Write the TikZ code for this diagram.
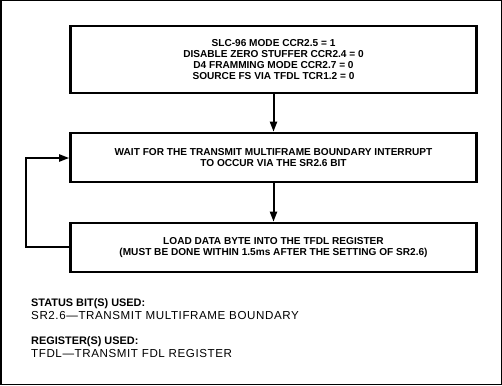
\documentclass[tikz,border=0pt]{standalone}
\usepackage{fontspec}
\setmainfont{Liberation Sans}
\usetikzlibrary{arrows.meta}
\tikzset{
  stepbox/.style={draw, line width=2.6pt, minimum width=406pt, align=center, font=\bfseries\fontsize{10.1}{11}\selectfont, inner sep=0pt},
  flow/.style={line width=2pt, -{Triangle[width=7pt,length=10pt]}},
  lbl/.style={anchor=base west, inner sep=0pt, font=\fontsize{10.9}{12}\selectfont},
  wide/.style={font=\fontsize{11.6}{12}\selectfont\addfontfeature{LetterSpace=5}}
}
\begin{document}
\begin{tikzpicture}[x=1pt,y=-1pt]
\useasboundingbox (0,0) rectangle (502,385);
\draw[line width=1.5pt] (0.75,0.75) rectangle (501.25,384.25);
\node[stepbox, minimum height=67pt] (b1) at (273.5,59.5) {SLC-96 MODE CCR2.5 = 1\\DISABLE ZERO STUFFER CCR2.4 = 0\\D4 FRAMMING MODE CCR2.7 = 0\\SOURCE FS VIA TFDL TCR1.2 = 0};
\node[stepbox, minimum height=49pt] (b2) at (273.5,157.5) {WAIT FOR THE TRANSMIT MULTIFRAME BOUNDARY INTERRUPT\\TO OCCUR VIA THE SR2.6 BIT};
\node[stepbox, minimum height=49pt] (b3) at (273.5,247.5) {LOAD DATA BYTE INTO THE TFDL REGISTER\\(MUST BE DONE WITHIN 1.5ms AFTER THE SETTING OF SR2.6)};
\draw[flow] (b1) -- (b2);
\draw[flow] (b2) -- (b3);
\coordinate (c1) at (26,247);
\coordinate (c2) at (26,158);
\draw[flow] (b3.west |- c1) -- (c1) -- (c2) -- (b2.west |- c2);
\node[lbl] (t1) at (31,306) {\bfseries STATUS BIT(S) USED:};
\node[lbl, wide] (t2) at (31,319) {SR2.6---TRANSMIT MULTIFRAME BOUNDARY};
\node[lbl] (t3) at (31,344) {\bfseries REGISTER(S) USED:};
\node[lbl, wide] (t4) at (31,357) {TFDL---TRANSMIT FDL REGISTER};
\end{tikzpicture}
\end{document}
